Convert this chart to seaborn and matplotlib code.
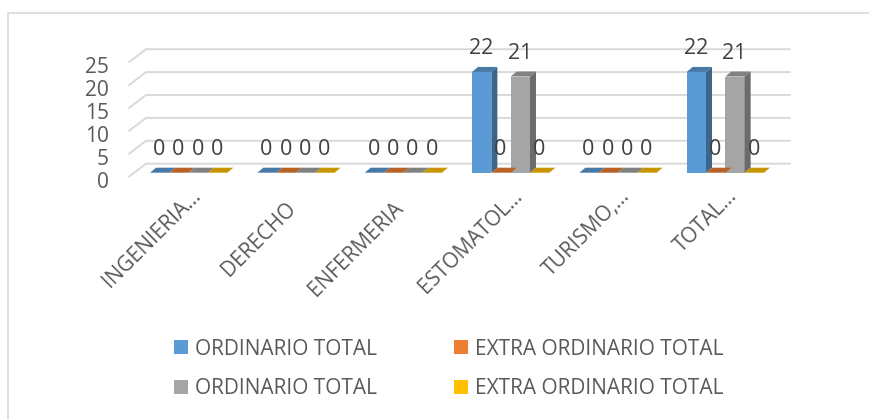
import numpy as np
import pandas as pd
import matplotlib
matplotlib.use('Agg')
import matplotlib.pyplot as plt
import matplotlib.transforms as mtrans
from matplotlib.patches import Polygon, Patch
import seaborn as sns

categories = ['INGENIERIA…', 'DERECHO', 'ENFERMERIA', 'ESTOMATOL…', 'TURISMO,…', 'TOTAL…']
ordinario_a = [0, 0, 0, 22, 0, 22]
extra_a = [0, 0, 0, 0, 0, 0]
ordinario_b = [0, 0, 0, 21, 0, 21]
extra_b = [0, 0, 0, 0, 0, 0]
series_keys = ['s1', 's2', 's3', 's4']
series_labels = ['ORDINARIO TOTAL', 'EXTRA ORDINARIO TOTAL', 'ORDINARIO TOTAL', 'EXTRA ORDINARIO TOTAL']
colors = ['#5b9bd5', '#ed7d31', '#a5a5a5', '#ffc000']
y_ticks = [0, 5, 10, 15, 20, 25]

W, H = 869, 419
# pixel frame of the front plane
LEFT, RIGHT, Y0, Y25 = 135, 779, 172.7, 58.2
PX_X = (RIGHT - LEFT) / len(categories)
PX_Y = (Y0 - Y25) / 25


def darker(col, f):
    return tuple(c * f for c in matplotlib.colors.to_rgb(col))


def main():
    rows = []
    for key, vals in zip(series_keys, [ordinario_a, extra_a, ordinario_b, extra_b]):
        for c, v in zip(categories, vals):
            rows.append({'cat': c, 'series': key, 'val': v})
    df = pd.DataFrame(rows)

    sns.set_theme(style='white')
    plt.rcParams['font.family'] = ['Open Sans', 'DejaVu Sans']

    fig = plt.figure(figsize=(W / 100, H / 100), dpi=100)
    ax = fig.add_axes([LEFT / W, 1 - Y0 / H, (RIGHT - LEFT) / W, (Y0 - Y25) / H])
    sns.barplot(data=df, x='cat', y='val', hue='series', order=categories, hue_order=series_keys,
                palette=colors, width=0.72, gap=0, legend=False, saturation=1, ax=ax, linewidth=0, zorder=3)
    ax.set_xlim(-0.5, len(categories) - 0.5)
    ax.set_ylim(0, 25)
    ax.set_xlabel('')
    ax.set_ylabel('')
    sns.despine(ax=ax, left=True, bottom=True)

    # back wall gridlines with the little diagonal on the side
    for v in y_ticks:
        x_start = -0.5 - 6 / PX_X
        x_back = -0.5 + 11 / PX_X
        x_end = len(categories) - 0.5 + 11 / PX_X
        y_front = v - 4 / PX_Y
        y_back = v + 9 / PX_Y
        ax.plot([x_start, x_back, x_end], [y_front, y_back, y_back], color='#d9d9d9', lw=1.4,
                clip_on=False, zorder=1, solid_joinstyle='miter')

    # fake 3d depth from the real bars
    dx = 6 / PX_X
    dy = 5 / PX_Y
    n = len(categories)
    for i, bar in enumerate(ax.patches):
        col = colors[i // n]
        x0 = bar.get_x()
        x1 = x0 + bar.get_width()
        h = bar.get_height()
        bar.set_clip_on(False)
        side = Polygon([(x1, 0), (x1 + dx, dy), (x1 + dx, h + dy), (x1, h)], closed=True,
                       fc=darker(col, 0.65), ec='none', clip_on=False, zorder=3)
        top = Polygon([(x0, h), (x0 + dx, h + dy), (x1 + dx, h + dy), (x1, h)], closed=True,
                      fc=darker(col, 0.78), ec='none', clip_on=False, zorder=3)
        ax.add_patch(side)
        ax.add_patch(top)
        # value label floats above the bar
        ax.text(x0 + bar.get_width() / 2 - 0.5 / PX_X, h + 23 / PX_Y, f'{h:.0f}', ha='center', va='center',
                fontsize=15.5, color='#404040', clip_on=False, zorder=5)

    ax.set_yticks(y_ticks)
    ax.tick_params(axis='y', length=0, pad=19, labelsize=15, labelcolor='#595959')
    for lab in ax.get_yticklabels():
        lab.set_transform(lab.get_transform() + mtrans.ScaledTranslation(0, -5 / 72, fig.dpi_scale_trans))

    ax.set_xticks(range(n))
    ax.set_xticklabels(categories, rotation=45, ha='right', va='top', rotation_mode='anchor')
    ax.tick_params(axis='x', length=0, pad=10, labelsize=15, labelcolor='#595959')
    for lab in ax.get_xticklabels():
        # cut labels sit further right than the whole ones
        if lab.get_text().endswith('…'):
            off_x, off_y = 1, 1
        else:
            off_x, off_y = -8, -8
        lab.set_transform(lab.get_transform() + mtrans.ScaledTranslation(off_x / 72, off_y / 72, fig.dpi_scale_trans))

    handles = [Patch(fc=c, ec='none') for c in colors]
    # order so that ncols=2 fills the rows like the original
    order = [0, 2, 1, 3]
    fig.legend([handles[i] for i in order], [series_labels[i] for i in order], ncols=2,
               loc='center', bbox_to_anchor=(449 / W, 1 - 369 / H), frameon=False, fontsize=15,
               labelcolor='#595959', handlelength=0.67, handleheight=0.67, handletextpad=0.33,
               columnspacing=3.7, labelspacing=0.9)

    # chart area border, runs off the picture on the right and the bottom
    fig.add_artist(plt.Line2D([8 / W, 8 / W, 1], [0, 1 - 13 / H, 1 - 13 / H], color='#d9d9d9', lw=1.2))

    fig.savefig('out.png', dpi=100)


if __name__ == '__main__':
    main()
